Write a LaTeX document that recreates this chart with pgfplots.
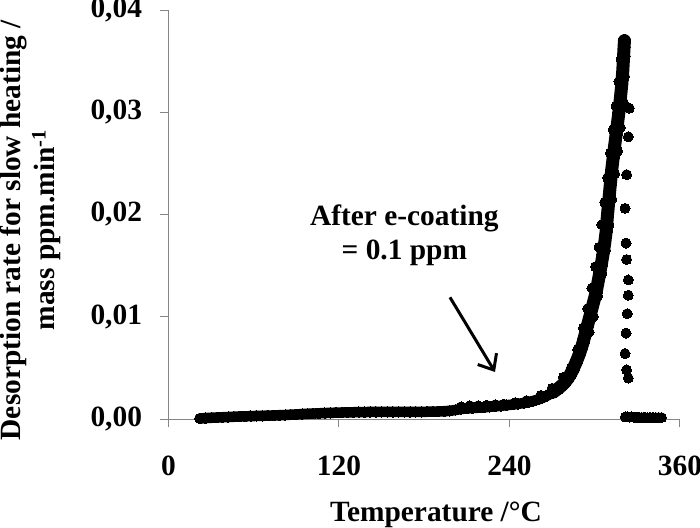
\documentclass[border=0pt]{standalone}
\usepackage{fontspec}
\setmainfont{Liberation Serif}
\usepackage{pgfplots}
\pgfplotsset{compat=1.18}
\usetikzlibrary{arrows.meta}
\definecolor{axgray}{HTML}{868686}
\newcommand{\lbl}{\fontsize{29.5}{34}\selectfont\bfseries}
\begin{document}
\begin{tikzpicture}
\begin{axis}[
  scale only axis, width=511.5bp, height=409bp,
  xmin=0, xmax=360, ymin=0, ymax=0.04,
  clip=false,
  axis lines=left,
  axis line style={-, draw=axgray, line width=1bp},
  tick style={draw=axgray, line width=1bp},
  tick align=outside, major tick length=8bp,
  xtick={0,120,240,360}, ytick={0,0.01,0.02,0.03,0.04},
  scaled y ticks=false,
  /pgf/number format/assume math mode=true,
  yticklabel style={/pgf/number format/fixed, /pgf/number format/fixed zerofill, /pgf/number format/precision=2, /pgf/number format/use comma, xshift=-15bp},
  xticklabel style={yshift=-25bp},
  ticklabel style={font=\lbl},
  xlabel={Temperature /°C},
  xlabel style={font=\lbl, at={(axis description cs:0.523,-0.235)}, anchor=center},
  ylabel={Desorption rate for slow heating /\\mass ppm.min\textsuperscript{-1}},
  ylabel style={font=\lbl, align=center, at={(axis description cs:-0.27,0.462)}, anchor=center},
]
% main curve, low part
\addplot[black, line width=10.5bp, line join=round, line cap=round, mark=*, mark size=5.2bp, mark options={fill=black, draw=black, line width=0pt}] coordinates {
(22,0.00005) (26,0.00009) (30,0.00012) (34,0.00014) (38,0.00017) (42,0.00019) (46,0.00022) (50,0.00024)
(54,0.00026) (58,0.00028) (62,0.00030) (66,0.00031) (70,0.00033) (74,0.00035) (78,0.00037) (82,0.00039)
(86,0.00042) (90,0.00045) (94,0.00048) (98,0.00051) (102,0.00053) (106,0.00056) (110,0.00058) (114,0.00060)
(118,0.00062) (122,0.00063) (126,0.00065) (130,0.00066) (134,0.00067) (138,0.00068) (142,0.00069) (146,0.00070)
(150,0.00070) (154,0.00070) (158,0.00070) (162,0.00070) (166,0.00070) (170,0.00070) (174,0.00070) (178,0.00070)
(182,0.00071) (186,0.00072) (190,0.00074) (194,0.00076) (198,0.00080) (202,0.00088) (206,0.00098) (210,0.00103)
(214,0.00107) (218,0.00110) (222,0.00114) (226,0.00119) (230,0.00124) (234,0.00129) (238,0.00135) (242,0.00141)
(246,0.00148) (250,0.00156) (253,0.00164) (256,0.00174) (259,0.00186) (262,0.00200) (265,0.00218) (268,0.00240)
(271,0.00265)
};
% main curve, steep part
\addplot[black, line width=13bp, line join=round, line cap=round, mark=*, mark size=6bp, mark options={fill=black, draw=black, line width=0pt}] coordinates {
(271,0.00265) (274,0.00295) (277,0.00330) (279,0.00360) (281,0.00395) (283,0.00440) (285,0.00495) (287,0.00560)
(289,0.00630) (290.5,0.00690) (292,0.00760) (293.5,0.00840) (295,0.00920) (296.5,0.01000) (298,0.01080) (299.5,0.01160)
(301,0.01240) (302.2,0.01330) (303.4,0.01420) (304.6,0.01510) (305.8,0.01610) (307,0.01720) (308,0.01830) (309,0.02000)
(310,0.02150) (311,0.02300) (312,0.02440) (313,0.02560) (314,0.02670) (315,0.02780) (316,0.02890) (317,0.03000)
(318,0.03130) (319,0.03270) (319.7,0.03400) (320.2,0.03520) (320.6,0.03630) (320.9,0.03700)
};
% scatter around the curve
\addplot[black, only marks, mark=*, mark size=5bp, mark options={fill=black, draw=black, line width=0pt}] coordinates {
(206,0.00120) (212,0.00130) (218,0.00130) (224,0.00135) (230,0.00140) (236,0.00145) (244,0.00160) (252,0.00180)
(262,0.00230) (270,0.00300) (278,0.00410) (283.5,0.00500) (288,0.00680) (292,0.00890) (295,0.01080) (298,0.01280) (300.5,0.01490) (303,0.01680) (305,0.01900)
(307,0.02120) (309,0.02360) (311,0.02600) (313,0.02830) (315,0.03060) (317,0.03300) (318.5,0.03520)
(296,0.00850) (299,0.01000) (302,0.01200) (305,0.01420) (307.5,0.01650) (310,0.01900) (312,0.02150) (314,0.02400)
(316,0.02620) (318,0.02850) (320,0.03100) (321,0.03350) (321.5,0.03550)
};
% drop after the peak
\addplot[black, only marks, mark=*, mark size=5bp, mark options={fill=black, draw=black, line width=0pt}] coordinates {
(324.3,0.0304) (323.6,0.0276) (322.4,0.0239) (321.3,0.0206) (322.0,0.0172) (322.4,0.0156) (323.6,0.0136)
(323.6,0.0121) (322.9,0.0103) (322.0,0.0084) (321.3,0.0064) (322.4,0.0048) (323.6,0.0040)
};
% tail
\addplot[black, only marks, mark=*, mark size=5bp, mark options={fill=black, draw=black, line width=0pt}] coordinates {
(321.5,0.00020) (323,0.00020) (324.5,0.00018) (326,0.00020) (327.5,0.00017) (329,0.00019) (331,0.00016)
(333,0.00015) (335,0.00016) (337,0.00014) (339,0.00015) (341,0.00015) (343,0.00014) (345,0.00015) (347,0.00014)
};
\node[font=\lbl, align=center] at (axis cs:166,0.0180) {After e-coating\\= 0.1 ppm};
\draw[line width=3bp, -{Straight Barb[length=13bp, width=22bp, line width=3bp]}] (axis cs:198.1,0.0119) -- (axis cs:229.8,0.0046);
\end{axis}
\pgfresetboundingbox
\path[use as bounding box] (current axis.south west) ++(-168.5bp,-109bp) rectangle ++(700bp,528bp);
\end{tikzpicture}
\end{document}
